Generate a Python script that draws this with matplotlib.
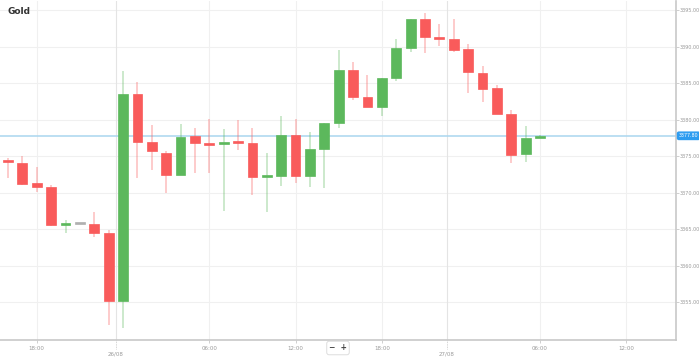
import matplotlib
matplotlib.use("Agg")
import matplotlib.pyplot as plt
import numpy as np

# hourly candles, 25/08 16:00 -> 27/08 05:00 (index based x axis)
opens = [3374.4, 3374.1, 3371.3, 3370.8, 3365.7, 3365.9, 3365.7, 3364.5, 3355.2, 3383.5,
         3376.9, 3375.4, 3372.4, 3377.8, 3376.7, 3376.7, 3377.0, 3376.8, 3372.2, 3372.3,
         3377.9, 3372.3, 3376.0, 3379.5, 3386.8, 3383.1, 3381.7, 3385.7, 3389.8, 3393.8,
         3391.2, 3391.0, 3389.7, 3386.4, 3384.3, 3380.8, 3375.3, 3377.5]
highs = [3374.8, 3375.0, 3373.5, 3371.1, 3366.3, 3365.9, 3367.4, 3364.9, 3386.7, 3385.2,
         3379.3, 3375.7, 3379.4, 3378.9, 3380.1, 3378.7, 3380.0, 3378.9, 3375.4, 3380.5,
         3380.1, 3378.3, 3379.6, 3389.5, 3387.9, 3386.1, 3385.7, 3391.0, 3393.8, 3394.6,
         3393.1, 3393.8, 3390.4, 3387.3, 3384.7, 3381.3, 3379.1, 3377.9]
lows = [3372.0, 3371.1, 3370.1, 3365.4, 3364.5, 3365.9, 3364.0, 3351.9, 3351.5, 3372.0,
        3373.1, 3370.0, 3372.4, 3372.7, 3372.7, 3367.5, 3375.9, 3369.7, 3367.4, 3370.9,
        3371.3, 3370.8, 3370.7, 3378.9, 3382.7, 3381.7, 3380.5, 3385.3, 3389.3, 3389.1,
        3390.1, 3389.3, 3383.7, 3382.4, 3380.8, 3374.1, 3374.2, 3377.5]
closes = [3374.3, 3371.2, 3370.8, 3365.6, 3365.8, 3365.9, 3364.5, 3355.2, 3383.5, 3376.9,
          3375.7, 3372.4, 3377.6, 3376.8, 3376.6, 3376.9, 3376.9, 3372.2, 3372.4, 3377.9,
          3372.3, 3376.0, 3379.5, 3386.8, 3383.1, 3381.7, 3385.7, 3389.8, 3393.8, 3391.3,
          3391.1, 3389.5, 3386.5, 3384.2, 3380.8, 3375.2, 3377.5, 3377.8]

last_price = 3377.80
y_ticks = [3355, 3360, 3365, 3370, 3375, 3380, 3385, 3390, 3395]
time_ticks = [2, 14, 20, 26, 37, 43]
time_labels = ["18:00", "06:00", "12:00", "18:00", "06:00", "12:00"]
date_ticks = [7.5, 30.5]
date_labels = ["26/08", "27/08"]

GREEN = "#5cb85c"
RED = "#f95b5b"
GRAY = "#b0b0b0"

fig = plt.figure(figsize=(6.99, 3.59), dpi=100)
ax = fig.add_axes([0.0, 0.0529, 0.967, 0.944])

# grid
for v in y_ticks:
    ax.axhline(v, color="#f0f0f0", lw=0.8, zorder=0)
for t in time_ticks:
    ax.axvline(t, color="#f0f0f0", lw=0.8, zorder=0)
for t in date_ticks:
    ax.axvline(t, color="#e4e4e4", lw=0.8, zorder=0)

# candles
x = np.arange(len(opens))
body_w = 0.68
for i in x:
    o, h, l, c = opens[i], highs[i], lows[i], closes[i]
    if c > o:
        col = GREEN
    elif c < o:
        col = RED
    else:
        col = GRAY
    ax.vlines(i, l, h, color=col, alpha=0.4, lw=1.1, zorder=2)
    bottom = min(o, c)
    height = max(abs(c - o), 0.22)
    if abs(c - o) < 0.22:
        bottom = (o + c) / 2 - 0.11
    ax.bar(i, height, bottom=bottom, width=body_w, color=col,
           edgecolor=col, lw=0.5, zorder=3)

# current price line + label
ax.axhline(last_price, color="#aad6ef", lw=1.1, zorder=1)
ax.text(1.004, last_price, f"{last_price:.2f}", transform=ax.get_yaxis_transform(),
        fontsize=3.4, color="white", va="center", ha="left", zorder=5, clip_on=False,
        bbox=dict(boxstyle="round,pad=0.25,rounding_size=0.3", fc="#2d9cf0", ec="#2d9cf0"))

ax.set_xlim(-0.556, 46.45)
ax.set_ylim(3349.86, 3396.23)

ax.yaxis.tick_right()
ax.set_yticks(y_ticks)
ax.set_yticklabels([f"{v:.2f}" for v in y_ticks], fontsize=3.5, color="#9a9a9a")
ax.tick_params(axis="y", length=2, width=0.6, color="#c8c8c8", pad=1)
ax.set_xticks(time_ticks)
ax.set_xticklabels(time_labels, fontsize=4, color="#9a9a9a")
ax.tick_params(axis="x", length=2, width=0.6, color="#c8c8c8", pad=2)

for t, lab in zip(date_ticks, date_labels):
    ax.plot([t, t], [0, -0.028], transform=ax.get_xaxis_transform(), color="#c8c8c8",
            lw=0.6, ls=(0, (1, 1)), clip_on=False)
    ax.text(t, -0.041, lab, transform=ax.get_xaxis_transform(), fontsize=4,
            color="#9a9a9a", ha="center", va="center")

for side in ["left", "top"]:
    ax.spines[side].set_visible(False)
for side in ["right", "bottom"]:
    ax.spines[side].set_color("#c8c8c8")
    ax.spines[side].set_linewidth(1.2)

# title
fig.text(8 / 699, 1 - 12 / 359, "Gold", fontsize=6.5, fontweight="bold",
         color="#333333", ha="left", va="center")

# zoom control
fig.text(338 / 699, 1 - 348 / 359, "\u2212  +", fontsize=5.5, fontweight="bold",
         color="#444444", ha="center", va="center",
         bbox=dict(boxstyle="round,pad=0.3", fc="white", ec="#d8d8d8", lw=0.6))

fig.savefig("out.png", dpi=100)
